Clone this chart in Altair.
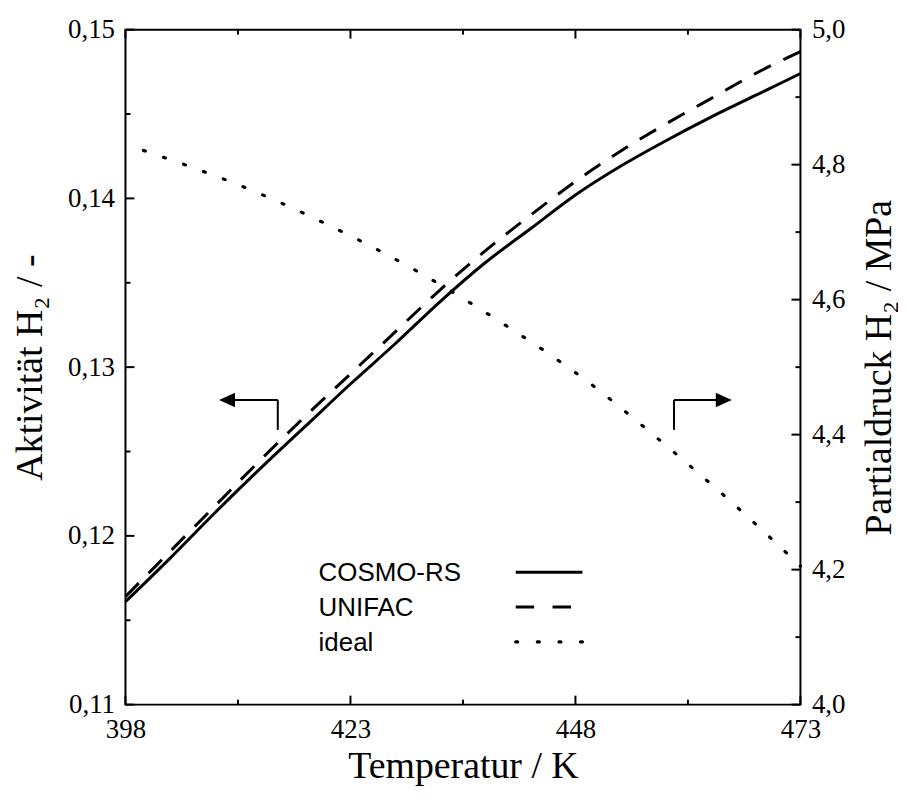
import altair as alt
import pandas as pd

# ---------------- data ----------------
temps = [398, 403, 408, 413, 418, 423, 428, 433, 438, 443, 448, 453, 458, 463, 468, 473]
cosmo_rs = [0.1161, 0.1187, 0.1214, 0.1240, 0.1265, 0.1290, 0.1314, 0.1339, 0.1362,
            0.1382, 0.1402, 0.1419, 0.1434, 0.1448, 0.1461, 0.1474]
unifac = [0.1164, 0.1191, 0.1218, 0.1245, 0.1271, 0.1296, 0.1321, 0.1346, 0.1369,
          0.1390, 0.1410, 0.1428, 0.1444, 0.1459, 0.1474, 0.1487]
temps_ideal = [400, 405, 410, 415, 420, 425, 430, 435, 440, 445, 450, 455, 460, 465, 470, 473]
ideal = [4.821, 4.798, 4.773, 4.745, 4.714, 4.681, 4.645, 4.606, 4.564, 4.520,
         4.472, 4.418, 4.362, 4.304, 4.243, 4.205]

x_major = [398, 423, 448, 473]
x_minor = [410.5, 435.5, 460.5]
yl_major = [0.11, 0.12, 0.13, 0.14, 0.15]
yl_minor = [0.115, 0.125, 0.135, 0.145]
yr_major = [4.0, 4.2, 4.4, 4.6, 4.8, 5.0]
yr_minor = [4.1, 4.3, 4.5, 4.7, 4.9]

legend_labels = ["COSMO-RS", "UNIFAC", "ideal"]

# ---------------- layout / style ----------------
W = 678
H = 678
SERIF = "Liberation Serif"
SANS = "Liberation Sans"
MAJ = 9   # inner tick lengths in px
MIN = 5

X0, X1 = 398, 473
YL0, YL1 = 0.11, 0.15
YR0, YR1 = 4.0, 5.0
xscale = alt.Scale(domain=[X0, X1], nice=False, zero=False)
ylscale = alt.Scale(domain=[YL0, YL1], nice=False, zero=False)
yrscale = alt.Scale(domain=[YR0, YR1], nice=False, zero=False)

df_c = pd.DataFrame({"T": temps, "a": cosmo_rs})
df_u = pd.DataFrame({"T": temps, "a": unifac})
df_i = pd.DataFrame({"T": temps_ideal, "p": ideal})
one = pd.DataFrame({"d": [0]})

common_axis = dict(grid=False, tickSize=5, tickOpacity=0, domain=False,
                   labelFont=SERIF, labelFontSize=27, labelColor="black",
                   labelFlush=False, labelOverlap=False,
                   titleFont=SERIF, titleFontSize=38, titleFontWeight="normal",
                   titleColor="black")

x_axis = alt.Axis(values=x_major, title="Temperatur / K", labelPadding=7,
                  titleBaseline="alphabetic", titleX=W / 2, titleY=73,
                  titleAlign="center", **common_axis)
yl_axis = alt.Axis(values=yl_major, orient="left", title="Aktivität H₂ / -",
                   labelExpr="replace(format(datum.value, '.2f'), '.', ',')",
                   labelPadding=6, titleAngle=270, titleBaseline="alphabetic",
                   titleX=-84, titleY=H / 2, titleAlign="center", **common_axis)
yr_axis = alt.Axis(values=yr_major, orient="right", title="Partialdruck H₂ / MPa",
                   labelExpr="replace(format(datum.value, '.1f'), '.', ',')",
                   labelPadding=6, titleAngle=270, titleBaseline="alphabetic",
                   titleX=90, titleY=H / 2, titleAlign="center", **common_axis)

X = dict(scale=xscale, axis=x_axis)

cosmo_line = alt.Chart(df_c).mark_line(color="black", strokeWidth=3, interpolate="monotone").encode(
    x=alt.X("T:Q", **X), y=alt.Y("a:Q", scale=ylscale, axis=yl_axis))
unifac_line = alt.Chart(df_u).mark_line(color="black", strokeWidth=3, strokeDash=[19, 14],
                                        interpolate="monotone").encode(
    x=alt.X("T:Q", **X), y=alt.Y("a:Q", scale=ylscale, axis=None))
ideal_line = alt.Chart(df_i).mark_line(color="black", strokeWidth=3.2, strokeDash=[2, 19.3],
                                       strokeCap="round", interpolate="monotone").encode(
    x=alt.X("T:Q", **X), y=alt.Y("p:Q", scale=yrscale, axis=yr_axis))


def hrule(x1, x2, y, **kw):
    return alt.Chart(one).mark_rule(color="black", **kw).encode(
        x=alt.value(x1), x2=alt.value(x2), y=alt.value(y))


def vrule(x, y1, y2, **kw):
    return alt.Chart(one).mark_rule(color="black", **kw).encode(
        x=alt.value(x), y=alt.value(y1), y2=alt.value(y2))


def head(x, y, path):
    return alt.Chart(one).mark_point(shape=path, filled=True, color="black", size=256,
                                     opacity=1, strokeWidth=0).encode(
        x=alt.value(x), y=alt.value(y))


# inner axis ticks (frame decoration), placed from the tick value lists
def px_x(v):
    return (v - X0) / (X1 - X0) * W


def px_yl(v):
    return H - (v - YL0) / (YL1 - YL0) * H


def px_yr(v):
    return H - (v - YR0) / (YR1 - YR0) * H


tick_layers = []
for vals, ln in ((x_major, MAJ), (x_minor, MIN)):
    for v in vals:
        tick_layers.append(vrule(px_x(v), H, H - ln, strokeWidth=2))
        tick_layers.append(vrule(px_x(v), 0, ln, strokeWidth=2))
for vals, ln in ((yl_major, MAJ), (yl_minor, MIN)):
    for v in vals:
        tick_layers.append(hrule(0, ln, px_yl(v), strokeWidth=2))
for vals, ln in ((yr_major, MAJ), (yr_minor, MIN)):
    for v in vals:
        tick_layers.append(hrule(W - ln, W, px_yr(v), strokeWidth=2))

LEFT_TRI = "M -1 0 L 1 -0.9 L 1 0.9 Z"
RIGHT_TRI = "M 1 0 L -1 -0.9 L -1 0.9 Z"

arrows = [
    vrule(153, 372, 402, strokeWidth=2),
    hrule(110, 153, 372, strokeWidth=2),
    head(102, 372, LEFT_TRI),
    vrule(551, 372, 402, strokeWidth=2),
    hrule(551, 594, 372, strokeWidth=2),
    head(601, 372, RIGHT_TRI),
]

legend_y_text = [554, 589, 624]
legend_y_line = [545, 580, 615]
legend_style = [{}, {"strokeDash": [18.5, 18.5]},
                {"strokeDash": [2, 19.7], "strokeCap": "round", "strokeWidth": 3.2}]
legend_layers = []
for lab, yt, yl, sty in zip(legend_labels, legend_y_text, legend_y_line, legend_style):
    legend_layers.append(
        alt.Chart(pd.DataFrame({"label": [lab]})).mark_text(
            font=SANS, fontSize=26, align="left", baseline="alphabetic", color="black"
        ).encode(x=alt.value(194), y=alt.value(yt), text="label:N")
    )
    kw = {"strokeWidth": 3}
    kw.update(sty)
    legend_layers.append(hrule(392, 459, yl, **kw))

chart = alt.layer(
    cosmo_line, ideal_line, unifac_line,
    *tick_layers, *arrows, *legend_layers,
).resolve_scale(y="independent").properties(
    width=W, height=H,
    autosize=alt.AutoSizeParams(type="none"),
    padding={"left": 118, "top": 20, "right": 98, "bottom": 82},
    background="white",
).configure_view(stroke="black", strokeWidth=2)

chart.save("out.html", embed_options={"renderer": "svg", "actions": False})
